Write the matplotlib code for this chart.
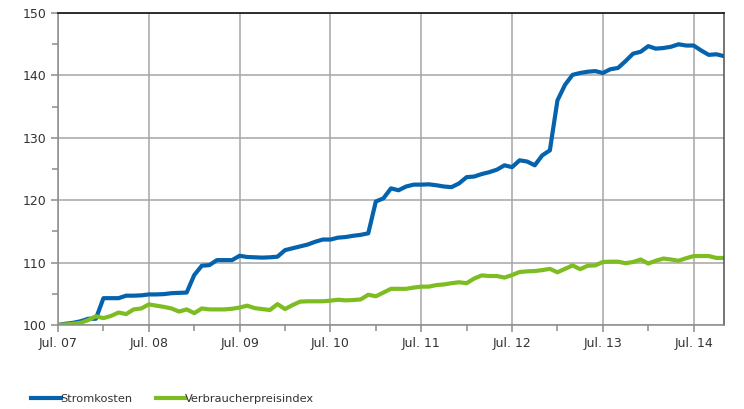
import matplotlib.pyplot as plt
from matplotlib.ticker import MultipleLocator

# monatswerte Jul. 07 bis Nov. 14 (index 2007 = 100)
strom = [
    100.0, 100.2, 100.35, 100.6, 101.0, 101.0,
    104.3, 104.3, 104.3, 104.7, 104.7, 104.75, 104.9, 104.9, 104.95, 105.1, 105.15, 105.2,
    108.0, 109.5, 109.6, 110.4, 110.4, 110.4, 111.1, 110.9, 110.85, 110.8, 110.85, 110.95,
    112.0, 112.3, 112.6, 112.9, 113.35, 113.7, 113.7, 114.0, 114.1, 114.3, 114.45, 114.7,
    119.8, 120.3, 121.9, 121.6, 122.2, 122.5, 122.5, 122.55, 122.4, 122.2, 122.1, 122.7,
    123.7, 123.8, 124.2, 124.5, 124.9, 125.6, 125.3, 126.4, 126.2, 125.6, 127.2, 128.0,
    136.0, 138.5, 140.1, 140.4, 140.6, 140.7, 140.4, 141.0, 141.2, 142.3, 143.5, 143.8,
    144.7, 144.3, 144.4, 144.6, 145.0, 144.8, 144.8, 144.0, 143.3, 143.4, 143.1,
]
vpi = [
    100.0, 100.1, 100.2, 100.35, 100.8, 101.4,
    101.1, 101.45, 102.0, 101.75, 102.5, 102.65, 103.3, 103.1, 102.9, 102.65, 102.15, 102.5,
    101.9, 102.65, 102.5, 102.5, 102.5, 102.6, 102.8, 103.1, 102.7, 102.55, 102.4, 103.35,
    102.55, 103.2, 103.75, 103.8, 103.8, 103.8, 103.9, 104.05, 103.95, 104.0, 104.1, 104.85,
    104.6, 105.2, 105.8, 105.8, 105.8, 106.0, 106.15, 106.15, 106.4, 106.5, 106.7, 106.85,
    106.7, 107.45, 107.95, 107.85, 107.85, 107.6, 108.0, 108.5, 108.6, 108.65, 108.8, 109.0,
    108.45, 109.0, 109.55, 108.95, 109.5, 109.55, 110.1, 110.15, 110.15, 109.9, 110.1, 110.5,
    109.85, 110.3, 110.65, 110.5, 110.3, 110.7, 111.05, 111.05, 111.05, 110.75, 110.75,
]
jahre = ["07", "08", "09", "10", "11", "12", "13", "14"]
x_labels = ["Jul. " + j for j in jahre]

monate = list(range(len(strom)))

fig = plt.figure(figsize=(7.44, 4.09), dpi=100)
ax = fig.add_axes([0.078, 0.2054, 0.895, 0.7626])

ax.plot(monate, strom, color="#0563ad", lw=3.0, label="Stromkosten", solid_joinstyle="round")
ax.plot(monate, vpi, color="#7dbd21", lw=3.0, label="Verbraucherpreisindex", solid_joinstyle="round")

ax.set_xlim(0, len(strom) - 1)
ax.set_ylim(100, 150)

# jul = major (mit gitter), jan = minor (nur strich)
ax.set_xticks(range(0, len(strom), 12))
ax.set_xticklabels(x_labels)
ax.set_xticks(range(6, len(strom), 12), minor=True)
ax.yaxis.set_major_locator(MultipleLocator(10))
ax.yaxis.set_minor_locator(MultipleLocator(5))

ax.grid(True, which="major", color="#a6a6a6", lw=1.1)
ax.set_axisbelow(True)
ax.tick_params(which="both", direction="out", color="#8c8c8c", width=1.1, labelsize=9, labelcolor="#333333")
ax.tick_params(which="major", length=5)
ax.tick_params(which="minor", length=4)
ax.tick_params(axis="x", pad=4)

for s in ["left", "bottom"]:
    ax.spines[s].set_color("#8c8c8c")
    ax.spines[s].set_linewidth(1.1)
ax.spines["top"].set_color("#202020")
ax.spines["top"].set_linewidth(1.3)
ax.spines["right"].set_color("#505050")
ax.spines["right"].set_linewidth(1.1)

fig.legend(loc="lower left", bbox_to_anchor=(0.028, -0.012), ncol=2, frameon=False,
           fontsize=8.2, handlelength=2.6, handletextpad=0.0, columnspacing=2.0,
           labelcolor="#333333")

plt.savefig("out.png", dpi=100)
